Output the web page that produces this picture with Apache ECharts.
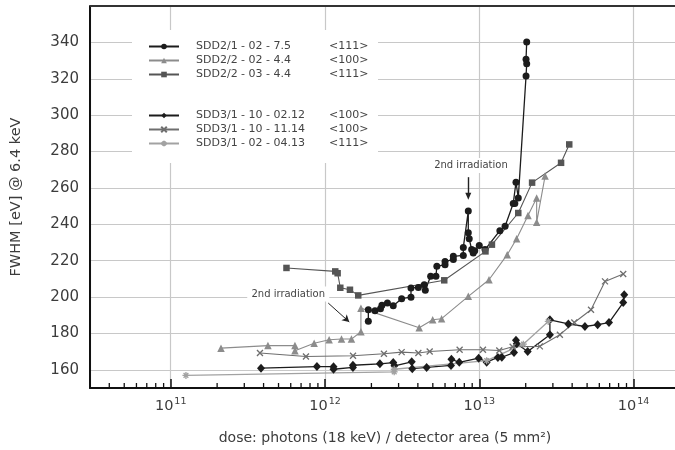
<!DOCTYPE html>
<html>
<head>
<meta charset="utf-8">
<script src="https://cdn.jsdelivr.net/npm/echarts@6/dist/echarts.min.js"></script>
<style>
  html, body { margin: 0; padding: 0; background: #fff; }
  #chart { width: 675px; height: 450px; }
</style>
</head>
<body>
<div id="chart"></div>
<script>
// Detector series: [dose (photons / 5 mm^2), FWHM in eV at 6.4 keV]
const seriesNames = [
  'SDD2/1 - 02 - 7.5',
  'SDD2/2 - 02 - 4.4',
  'SDD2/2 - 03 - 4.4',
  'SDD3/1 - 10 - 02.12',
  'SDD3/1 - 10 - 11.14',
  'SDD3/1 - 02 - 04.13'
];
const orientations = ['<111>', '<100>', '<111>', '<100>', '<100>', '<111>'];

const sdd21_02_75 = [
  [1.91e12, 186.7], [1.91e12, 193.0], [2.11e12, 192.5], [2.29e12, 193.6], [2.34e12, 195.5],
  [2.54e12, 196.7], [2.77e12, 195.2], [3.14e12, 199.1], [3.61e12, 199.9], [3.61e12, 205.0],
  [4.03e12, 205.3], [4.40e12, 206.8], [4.47e12, 203.7], [4.84e12, 211.4], [5.24e12, 211.4],
  [5.31e12, 216.9], [6.0e12, 217.8], [6.0e12, 219.6], [6.79e12, 220.6], [6.79e12, 222.4],
  [7.88e12, 222.9], [7.88e12, 227.2], [8.49e12, 247.3], [8.49e12, 235.3], [8.61e12, 232.0],
  [8.93e12, 226.1], [9.14e12, 224.2], [9.35e12, 225.5], [1.0e13, 228.4], [1.09e13, 226.1],
  [1.36e13, 236.5], [1.47e13, 238.9], [1.66e13, 251.4], [1.70e13, 251.4], [1.73e13, 263.1],
  [1.79e13, 254.5], [2.01e13, 321.5], [2.03e13, 328.3], [2.01e13, 330.7], [2.03e13, 340.2]
];
const sdd22_02_44 = [
  [2.12e11, 171.9], [4.27e11, 173.3], [6.39e11, 173.3], [6.39e11, 170.5], [8.51e11, 174.6],
  [1.064e12, 176.5], [1.28e12, 176.9], [1.485e12, 176.9], [1.71e12, 180.9], [1.71e12, 193.9],
  [4.08e12, 183.1], [4.99e12, 187.5], [5.70e12, 188.1], [8.49e12, 200.4], [1.156e13, 209.5],
  [1.518e13, 223.3], [1.746e13, 232.1], [2.07e13, 244.8], [2.355e13, 254.5], [2.355e13, 241.1],
  [2.67e13, 266.5]
];
const sdd22_03_44 = [
  [5.63e11, 216.0], [1.166e12, 214.1], [1.208e12, 213.1], [1.257e12, 205.1], [1.452e12, 204.0],
  [1.643e12, 200.9], [5.93e12, 209.2], [1.097e13, 225.1], [1.208e13, 228.8], [1.79e13, 246.2],
  [2.20e13, 262.9], [3.39e13, 273.8], [3.83e13, 283.9]
];
const sdd31_10_0212 = [
  [3.85e11, 160.9], [8.87e11, 161.8], [1.136e12, 161.7], [1.136e12, 160.3], [1.518e12, 161.3],
  [1.518e12, 162.5], [2.27e12, 163.3], [2.77e12, 164.0], [2.82e12, 162.2], [3.65e12, 164.4],
  [3.68e12, 160.6], [4.56e12, 161.3], [6.56e12, 162.4], [6.6e12, 165.8], [7.42e12, 164.1],
  [9.91e12, 166.4], [1.117e13, 164.2], [1.32e13, 166.8], [1.40e13, 166.9], [1.68e13, 169.5],
  [1.73e13, 176.2], [1.75e13, 174.3], [2.06e13, 170.1], [2.87e13, 179.3], [2.87e13, 187.5],
  [3.78e13, 185.2], [4.84e13, 183.8], [5.85e13, 184.8], [6.93e13, 186.0], [8.57e13, 197.0],
  [8.70e13, 201.3]
];
const sdd31_10_1114 = [
  [3.79e11, 169.2], [7.53e11, 167.3], [1.52e12, 167.7], [2.41e12, 168.8], [3.14e12, 169.7],
  [4.03e12, 169.2], [4.77e12, 170.1], [7.46e12, 171.0], [1.057e13, 171.0], [1.348e13, 170.6],
  [1.645e13, 172.7], [2.47e13, 172.9], [3.33e13, 179.3], [4.13e13, 186.0], [5.30e13, 193.0],
  [6.53e13, 208.6], [8.57e13, 212.7]
];
const sdd31_02_0413 = [
  [1.256e11, 156.9], [2.81e12, 158.9], [2.81e12, 160.3], [1.117e13, 165.0], [1.93e13, 174.1],
  [2.80e13, 186.6]
];

// Axis ranges and minor tick positions on the log dose axis
const doseMin = 3e10, doseMax = 2e14;
const fwhmMin = 150, fwhmMax = 360;
const minorTicks = [];
for (let e = 10; e <= 13; e++) {
  for (let m = 2; m <= 9; m++) {
    const v = m * Math.pow(10, e);
    if (v > doseMin && v < doseMax) minorTicks.push(v);
  }
}

// Annotation anchors [dose, FWHM]
const upperNoteText = [8.83e12, 272.3];
const upperArrow = [[8.49e12, 265.9], [8.49e12, 255.4]];
const lowerNoteText = [5.78e11, 201.7];
const lowerArrow = [[1.05e12, 196.7], [1.437e12, 186.3]];

const FONT = '"DejaVu Sans", sans-serif';
const TEXT = '#3c3c3c';
const GRID = '#c8c8c8';

const crossPath = 'path://M0,0L10,10M10,0L0,10';
const starPath = 'path://M5,0L5,10M0,5L10,5M1.6,1.6L8.4,8.4M8.4,1.6L1.6,8.4';

function lineSeries(name, data, color, symbol, size, lw, extra) {
  const s = {
    name: name,
    type: 'line',
    data: data,
    symbol: symbol,
    symbolSize: size,
    showAllSymbol: true,
    z: 3,
    lineStyle: { color: color, width: lw },
    itemStyle: { color: color },
    emphasis: { disabled: true }
  };
  return Object.assign(s, extra || {});
}

const noteLabel = {
  show: true, position: 'inside', color: '#444', fontFamily: FONT, fontSize: 10,
  formatter: () => '2nd irradiation'
};

const series = [
  lineSeries(seriesNames[0], sdd21_02_75, '#1c1c1c', 'circle', 7, 1.3, {
    markLine: {
      silent: true, symbol: ['none', 'triangle'], symbolSize: [6, 7],
      label: { show: false },
      lineStyle: { color: '#222', width: 1.4, type: 'solid' },
      data: [[{ coord: upperArrow[0] }, { coord: upperArrow[1] }]]
    },
    markPoint: {
      silent: true, symbol: 'rect', symbolSize: [80, 15],
      itemStyle: { color: '#fff' }, label: noteLabel,
      data: [{ coord: upperNoteText }]
    }
  }),
  lineSeries(seriesNames[1], sdd22_02_44, '#8c8c8c', 'triangle', 7.5, 1.1, {
    markLine: {
      silent: true, symbol: ['none', 'arrow'], symbolSize: [6, 7],
      label: { show: false },
      lineStyle: { color: '#222', width: 1, type: 'solid' },
      data: [[{ coord: lowerArrow[0] }, { coord: lowerArrow[1] }]]
    },
    markPoint: {
      silent: true, symbol: 'rect', symbolSize: [82, 15],
      itemStyle: { color: '#fff' }, label: noteLabel,
      data: [{ coord: lowerNoteText }]
    }
  }),
  lineSeries(seriesNames[2], sdd22_03_44, '#555555', 'rect', 6.5, 1.1),
  lineSeries(seriesNames[3], sdd31_10_0212, '#1c1c1c', 'diamond', [8, 9], 1.3),
  lineSeries(seriesNames[4], sdd31_10_1114, '#6e6e6e', crossPath, 6, 1.1, {
    itemStyle: { color: '#6e6e6e', borderColor: '#6e6e6e', borderWidth: 1.3 }
  }),
  lineSeries(seriesNames[5], sdd31_02_0413, '#a2a2a2', starPath, 7, 1.3, {
    itemStyle: { color: '#a2a2a2', borderColor: '#a2a2a2', borderWidth: 1.3 }
  }),
  {
    name: 'minorTicks',
    type: 'custom',
    silent: true,
    z: 4,
    data: minorTicks.map(v => [v, fwhmMin]),
    encode: { x: 0, y: 1 },
    renderItem: (params, api) => {
      const p = api.coord([api.value(0), api.value(1)]);
      return {
        type: 'line',
        shape: { x1: p[0], y1: p[1], x2: p[0], y2: p[1] - 5 },
        style: { stroke: '#111', lineWidth: 1.3 }
      };
    }
  }
];

const legendText = {
  fontFamily: FONT, fontSize: 11, color: '#444',
  rich: {
    n: { width: 133, padding: [0, 0, 0, 12], fontFamily: FONT, fontSize: 11, color: '#444' },
    o: { fontFamily: FONT, fontSize: 11, color: '#444' }
  }
};
function legendFormatter(name) {
  return '{n|' + name + '}{o|' + orientations[seriesNames.indexOf(name)] + '}';
}
function legendBlock(names, top) {
  return {
    data: names, orient: 'vertical', left: 148, top: top, padding: 0,
    itemWidth: 30, itemHeight: 7, itemGap: 3, selectedMode: false,
    textStyle: legendText, formatter: legendFormatter
  };
}

const option = {
  animation: false,
  backgroundColor: '#fff',
  textStyle: { fontFamily: FONT },
  grid: { left: 90, top: 6, width: 590, height: 382, show: false, containLabel: false, outerBoundsMode: 'none' },
  graphic: [{
    type: 'rect', z: 1, silent: true,
    shape: { x: 132, y: 30, width: 246, height: 133 },
    style: { fill: '#fff' }
  }],
  legend: [legendBlock(seriesNames.slice(0, 3), 41), legendBlock(seriesNames.slice(3), 110)],
  xAxis: {
    type: 'log', logBase: 10, min: doseMin, max: doseMax,
    name: 'dose: photons (18 keV) / detector area (5 mm\u00B2)',
    nameLocation: 'middle', nameGap: 43,
    nameTextStyle: { fontFamily: FONT, fontSize: 14, color: TEXT },
    axisLine: { show: true, onZero: false, lineStyle: { color: '#111', width: 2 } },
    axisTick: { show: true, inside: true, length: 9, lineStyle: { color: '#111', width: 1.5 } },
    minorTick: { show: false },
    splitLine: { show: true, lineStyle: { color: GRID, width: 1.2 } },
    axisLabel: {
      margin: 9,
      formatter: v => {
        const l = Math.log10(v), e = Math.round(l);
        if (Math.abs(l - e) > 1e-6) return '';
        return '{b|10}{s|' + e + '}';
      },
      rich: {
        b: { fontFamily: FONT, fontSize: 14.5, color: TEXT, lineHeight: 18 },
        s: { fontFamily: FONT, fontSize: 9.5, color: TEXT, verticalAlign: 'top', lineHeight: 11, padding: [0, 0, 0, 1] }
      }
    }
  },
  yAxis: {
    type: 'value', min: fwhmMin, max: fwhmMax, interval: 10,
    name: 'FWHM [eV] @ 6.4 keV', nameLocation: 'middle', nameGap: 66,
    nameTextStyle: { fontFamily: FONT, fontSize: 14.5, color: TEXT },
    axisLine: { show: true, lineStyle: { color: '#111', width: 2 } },
    axisTick: { show: false },
    splitLine: { show: true, lineStyle: { color: ['rgba(0,0,0,0)', GRID], width: 1.2 } },
    axisLabel: {
      margin: 11, fontFamily: FONT, fontSize: 15, color: TEXT,
      formatter: v => (v % 20 === 0 && v > fwhmMin && v < fwhmMax) ? String(v) : ''
    }
  },
  series: series
};

// Top border of the plot frame, placed at the axis maximum
option.series.push({
  name: 'frameTop', type: 'custom', silent: true, z: 4,
  data: [[doseMin, fwhmMax]],
  renderItem: (params, api) => {
    const a = api.coord([doseMin, fwhmMax]);
    const b = api.coord([doseMax, fwhmMax]);
    return { type: 'line', shape: { x1: a[0], y1: a[1], x2: b[0], y2: b[1] }, style: { stroke: '#333', lineWidth: 2 } };
  },
  clip: false
});

const chart = echarts.init(document.getElementById('chart'), null, { renderer: 'canvas' });
chart.setOption(option);
</script>
</body>
</html>
